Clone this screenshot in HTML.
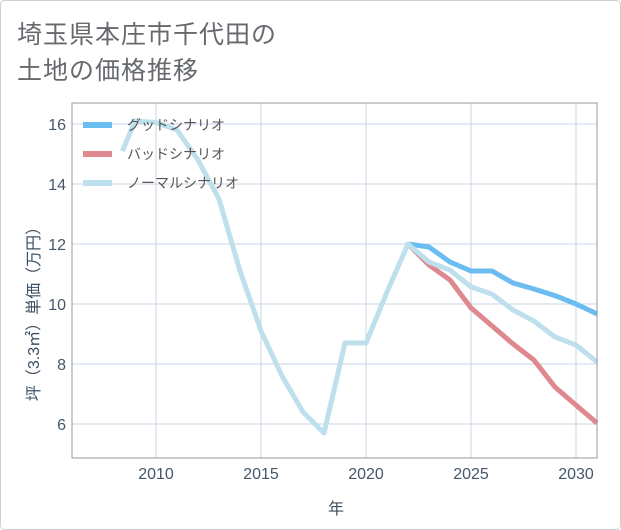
<!DOCTYPE html>
<html><head><meta charset="utf-8"><style>
body{margin:0;background:#fff;}
svg{display:block;font-family:"Liberation Sans","Noto Sans CJK JP",sans-serif;}
</style></head><body>
<svg width="621" height="530" id="c">
<rect x="0.5" y="0.5" width="620" height="529" rx="4" fill="#fff" stroke="#d0d0d0"/>
<text x="17" y="43" font-size="25" fill="#666a6e" letter-spacing="1">埼玉県本庄市千代田の</text>
<text x="17" y="79" font-size="25" fill="#666a6e" letter-spacing="1">土地の価格推移</text>
<g id="grid"></g>
<g id="lines"></g>
<rect x="72" y="103" width="525" height="355" fill="none" stroke="#999" stroke-width="1"/>
<g id="legend"></g>
<text x="336" y="514" font-size="16" fill="#3d4f63" text-anchor="middle">年</text>
<text transform="translate(39,310) rotate(-90)" font-size="16" fill="#3d4f63" text-anchor="middle">坪（3.3㎡）単価（万円）</text>
</svg>
<script>
const xTicks=[2010,2015,2020,2025,2030];
const yTicks=[6,8,10,12,14,16];
const normalYears=[2008.4,2009,2010,2011,2012,2013,2014,2015,2016,2017,2018,2019,2020,2021,2022,2023,2024,2025,2026,2027,2028,2029,2030,2031];
const normalVals=[15.1,16.1,16.05,15.8,14.8,13.5,11.1,9.1,7.6,6.4,5.7,8.7,8.7,10.4,12.0,11.4,11.13,10.57,10.33,9.8,9.43,8.9,8.63,8.07];
const futureYears=[2022,2023,2024,2025,2026,2027,2028,2029,2030,2031];
const goodVals=[12.0,11.9,11.4,11.1,11.1,10.7,10.5,10.28,10.0,9.67];
const badVals=[12.0,11.3,10.8,9.87,9.27,8.67,8.13,7.23,6.63,6.03];
const seriesNames=["グッドシナリオ","バッドシナリオ","ノーマルシナリオ"];
const NS="http://www.w3.org/2000/svg";
const X=y=>72+(y-2006)*21;
const Y=v=>124+(16-v)*30;
function mk(t,a,p){const e=document.createElementNS(NS,t);for(const k in a)e.setAttribute(k,a[k]);p.appendChild(e);return e;}
const grid=document.getElementById('grid');
xTicks.forEach(t=>{
 const l=mk('line',{x1:X(t),x2:X(t),y1:103,y2:458,stroke:'#c8d6e4','stroke-width':1},grid);
 
 
 const tx=mk('text',{x:X(t),y:479,'font-size':16,fill:'#45566b','text-anchor':'middle'},grid);tx.textContent=t;
 
 
});
yTicks.forEach(t=>{
 const l=mk('line',{x1:72,x2:597,y1:Y(t),y2:Y(t),stroke:'#c8d6e4','stroke-width':1},grid);
 
 
 const tx=mk('text',{x:66,y:Y(t)+6,'font-size':16,fill:'#45566b','text-anchor':'end'},grid);tx.textContent=t;
 
 
});
const lines=document.getElementById('lines');
function path(xs,vs,col,name){
 const d=xs.map((x,i)=>(i?'L':'M')+X(x).toFixed(1)+','+Y(vs[i]).toFixed(1)).join('');
 const p=mk('path',{d:d,fill:'none',stroke:col,'stroke-width':5,'stroke-linejoin':'round'},lines);
 
 
}
const cols=['#6bbcf0','#e0888f','#bde0ec'];
path(futureYears,goodVals,cols[0],'good-scenario-line');
path(futureYears,badVals,cols[1],'bad-scenario-line');
path(normalYears,normalVals,cols[2],'normal-scenario-line');
const lg=document.getElementById('legend');
seriesNames.forEach((n,i)=>{
 const y=125+i*29;
 const l=mk('line',{x1:83,x2:112,y1:y,y2:y,stroke:cols[i],'stroke-width':6},lg);
 
 
 const t=mk('text',{x:127,y:y+5,'font-size':14,fill:'#555'},lg);t.textContent=n;
 
 
});
</script>
</body></html>
